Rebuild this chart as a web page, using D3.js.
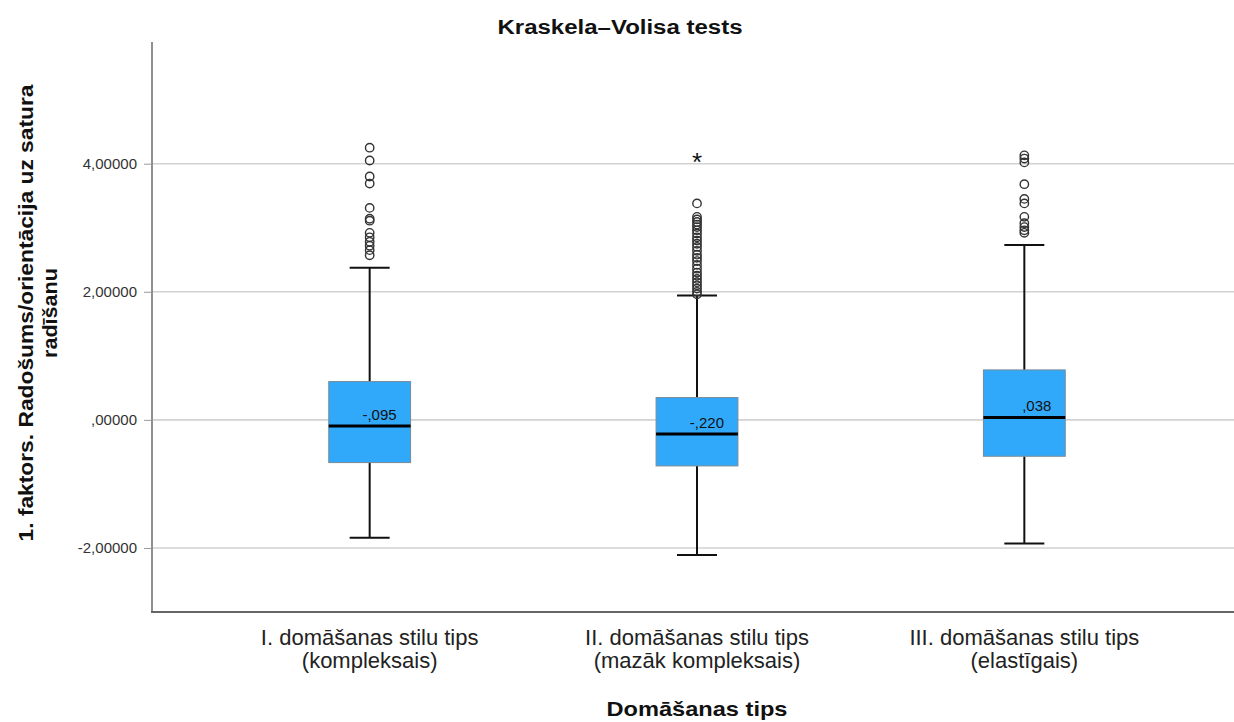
<!DOCTYPE html>
<html>
<head>
<meta charset="utf-8">
<script src="https://cdn.jsdelivr.net/npm/d3@7"></script>
<style>
  html, body { margin: 0; padding: 0; background: #fff; }
  svg { display: block; font-family: "Liberation Sans", Arial, sans-serif; }
</style>
</head>
<body>
<svg id="chart" width="1234" height="722"></svg>
<script>
// ---------- data ----------
const categories = ["I", "II", "III"];
const catLine1 = ["I. domāšanas stilu tips", "II. domāšanas stilu tips", "III. domāšanas stilu tips"];
const catLine2 = ["(kompleksais)", "(mazāk kompleksais)", "(elastīgais)"];
const medians = [-0.095, -0.220, 0.038];
const medianLabels = ["-,095", "-,220", ",038"];
const q1 = [-0.667, -0.719, -0.568];
const q3 = [0.598, 0.348, 0.780];
const whiskerLow = [-1.84, -2.11, -1.93];
const whiskerHigh = [2.375, 1.94, 2.73];
const outliers1 = [4.25, 4.05, 3.80, 3.69, 3.31, 3.14, 3.11, 2.92, 2.85, 2.78, 2.72, 2.65, 2.57];
const outliers2 = [3.38, 3.17, 3.13, 3.09, 3.05, 3.01, 2.96, 2.91, 2.85, 2.80, 2.75, 2.70, 2.64, 2.58,
                   2.53, 2.48, 2.42, 2.36, 2.30, 2.25, 2.20, 2.15, 2.10, 2.05, 2.00, 1.96];
const outliers3 = [4.13, 4.08, 4.02, 3.68, 3.45, 3.38, 3.17, 3.07, 3.01, 2.96, 2.92];
const extremes1 = [];
const extremes2 = [4.05];
const extremes3 = [];
const yTickValues = [-2, 0, 2, 4];
const yTickLabels = ["-2,00000", ",00000", "2,00000", "4,00000"];
const title = "Kraskela–Volisa tests";
const xTitle = "Domāšanas tips";
const yTitle1 = "1. faktors. Radošums/orientācija uz satura";
const yTitle2 = "radīšanu";

const outliers = [outliers1, outliers2, outliers3];
const extremes = [extremes1, extremes2, extremes3];

// ---------- layout ----------
const plot = { left: 152, right: 1234, top: 42, bottom: 612 };
const svg = d3.select("#chart");

const x = d3.scaleBand().domain(categories).range([206, 1188]).padding(0);
const y = d3.scaleLinear().domain([-3.0, 5.9]).range([plot.bottom, plot.top]);
const cx = c => x(c) + x.bandwidth() / 2;
const boxW = x.bandwidth() * 0.25;
const capW = 40;

// gridlines
svg.append("g").selectAll("line").data(yTickValues).join("line")
  .attr("x1", plot.left).attr("x2", plot.right)
  .attr("y1", d => y(d)).attr("y2", d => y(d))
  .attr("stroke", "#d2d2d2").attr("stroke-width", 1.6);

// y axis
const yAxis = d3.axisLeft(y).tickValues(yTickValues)
  .tickFormat(d => yTickLabels[yTickValues.indexOf(d)])
  .tickSize(8).tickPadding(7);
const gy = svg.append("g").attr("transform", `translate(${plot.left},0)`).call(yAxis);
gy.select(".domain").remove();
gy.selectAll(".tick line").attr("stroke", "#999").attr("stroke-width", 1);
gy.selectAll(".tick text").attr("font-size", 15).attr("fill", "#333")
  .attr("font-family", "Liberation Sans, Arial, sans-serif");

// axis lines
svg.append("line").attr("x1", plot.left).attr("x2", plot.left)
  .attr("y1", plot.top).attr("y2", plot.bottom)
  .attr("stroke", "#8f8f8f").attr("stroke-width", 2);
svg.append("line").attr("x1", plot.left - 1).attr("x2", plot.right)
  .attr("y1", plot.bottom).attr("y2", plot.bottom)
  .attr("stroke", "#666").attr("stroke-width", 2);

// boxes
const g = svg.append("g");
categories.forEach((c, i) => {
  const xc = cx(c);
  g.append("line").attr("x1", xc).attr("x2", xc).attr("y1", y(q3[i])).attr("y2", y(whiskerHigh[i]))
    .attr("stroke", "#111").attr("stroke-width", 2);
  g.append("line").attr("x1", xc).attr("x2", xc).attr("y1", y(q1[i])).attr("y2", y(whiskerLow[i]))
    .attr("stroke", "#111").attr("stroke-width", 2);
  g.append("line").attr("x1", xc - capW / 2).attr("x2", xc + capW / 2)
    .attr("y1", y(whiskerHigh[i])).attr("y2", y(whiskerHigh[i]))
    .attr("stroke", "#111").attr("stroke-width", 2);
  g.append("line").attr("x1", xc - capW / 2).attr("x2", xc + capW / 2)
    .attr("y1", y(whiskerLow[i])).attr("y2", y(whiskerLow[i]))
    .attr("stroke", "#111").attr("stroke-width", 2);
  g.append("rect").attr("x", xc - boxW / 2).attr("width", boxW)
    .attr("y", y(q3[i])).attr("height", y(q1[i]) - y(q3[i]))
    .attr("fill", "#31a9fb").attr("stroke", "#7a8a96").attr("stroke-width", 1);
  g.append("line").attr("x1", xc - boxW / 2).attr("x2", xc + boxW / 2)
    .attr("y1", y(medians[i])).attr("y2", y(medians[i]))
    .attr("stroke", "#000").attr("stroke-width", 3);
  g.append("text").attr("x", xc + 27).attr("y", y(medians[i]) - 6)
    .attr("text-anchor", "end").attr("font-size", 15).attr("fill", "#111")
    .text(medianLabels[i]);
  g.append("g").selectAll("circle").data(outliers[i]).join("circle")
    .attr("cx", xc).attr("cy", d => y(d)).attr("r", 4.2)
    .attr("fill", "none").attr("stroke", "#333").attr("stroke-width", 1.4);
  g.append("g").selectAll("text").data(extremes[i]).join("text")
    .attr("x", xc).attr("y", d => y(d) + 11).attr("text-anchor", "middle")
    .attr("font-size", 26).attr("fill", "#111").text("*");
  svg.append("text").attr("x", xc).attr("y", 645).attr("text-anchor", "middle")
    .attr("font-size", 22).attr("fill", "#222").text(catLine1[i]);
  svg.append("text").attr("x", xc).attr("y", 668).attr("text-anchor", "middle")
    .attr("font-size", 22).attr("fill", "#222").text(catLine2[i]);
});

// titles
svg.append("text").attr("x", 620).attr("y", 34).attr("text-anchor", "middle")
  .attr("font-size", 20).attr("font-weight", "bold").attr("fill", "#111")
  .attr("textLength", 245).attr("lengthAdjust", "spacingAndGlyphs")
  .text(title);
svg.append("text").attr("x", 697).attr("y", 716).attr("text-anchor", "middle")
  .attr("font-size", 21).attr("font-weight", "bold").attr("fill", "#111")
  .attr("textLength", 181).attr("lengthAdjust", "spacingAndGlyphs")
  .text(xTitle);
const yt = svg.append("g").attr("transform", "translate(0,313) rotate(-90)");
yt.append("text").attr("x", 0).attr("y", 33).attr("text-anchor", "middle")
  .attr("font-size", 21).attr("font-weight", "bold").attr("fill", "#111")
  .attr("textLength", 457).attr("lengthAdjust", "spacingAndGlyphs")
  .text(yTitle1);
yt.append("text").attr("x", 0).attr("y", 57).attr("text-anchor", "middle")
  .attr("font-size", 21).attr("font-weight", "bold").attr("fill", "#111")
  .attr("textLength", 90).attr("lengthAdjust", "spacingAndGlyphs")
  .text(yTitle2);
</script>
</body>
</html>
